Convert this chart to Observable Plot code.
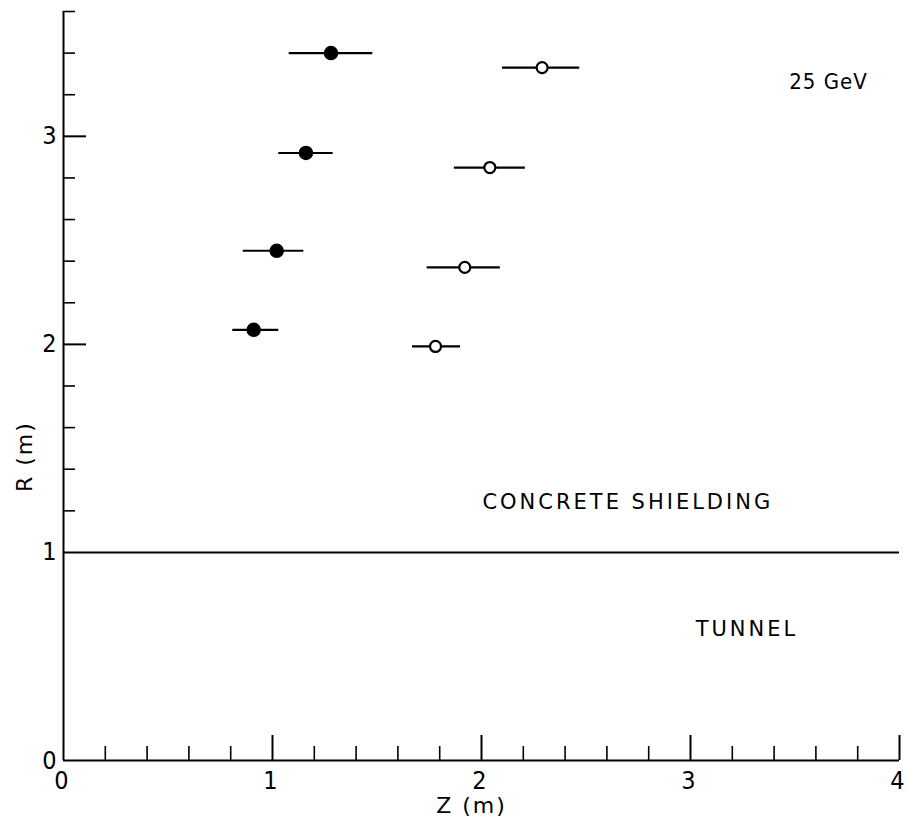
<!DOCTYPE html>
<html><head><meta charset="utf-8">
<script src="https://cdn.jsdelivr.net/npm/d3@7"></script>
<script src="https://cdn.jsdelivr.net/npm/@observablehq/plot@0.6"></script>
<style>body{margin:0;background:#fff}</style>
</head><body><div id="chart"></div>
<script>
// Filled circles (series 1)
const filledZ  = [1.28, 1.16, 1.02, 0.91];
const filledR  = [3.40, 2.92, 2.45, 2.07];
const filledLo = [1.08, 1.03, 0.86, 0.81];
const filledHi = [1.48, 1.29, 1.15, 1.03];
// Open circles (series 2)
const openZ  = [2.29, 2.04, 1.92, 1.78];
const openR  = [3.33, 2.85, 2.37, 1.99];
const openLo = [2.10, 1.87, 1.74, 1.67];
const openHi = [2.47, 2.21, 2.09, 1.90];
// Axes
const zDomain = [0, 4];
const rDomain = [0, 3.6];
const zLabels = [0, 1, 2, 3, 4];
const zMajor = [1, 2, 3, 4];
const zMinor = [0.2, 0.4, 0.6, 0.8, 1.2, 1.4, 1.6, 1.8, 2.2, 2.4, 2.6, 2.8, 3.2, 3.4, 3.6, 3.8];
const rLabels = [0, 1, 2, 3];
const rMajor = [2, 3];
const rMinor = [1.2, 1.4, 1.6, 1.8, 2.2, 2.4, 2.6, 2.8, 3.2, 3.4, 3.6];
const boundaryR = [1];
const xTitle = "Z (m)";
const yTitle = "R (m)";
// Annotations
const energyText = ["25 GeV"];
const energyZ = [3.66];
const energyR = [3.26];
const regionText = ["CONCRETE SHIELDING", "TUNNEL"];
const regionZ = [2.70, 3.27];
const regionR = [1.24, 0.63];

const W = 907, H = 827, mL = 63, mR = 8, mT = 11, mB = 67;
const plotW = W - mL - mR, plotH = H - mT - mB;

const filled = filledZ.map((z, i) => ({z, r: filledR[i], lo: filledLo[i], hi: filledHi[i]}));
const open = openZ.map((z, i) => ({z, r: openR[i], lo: openLo[i], hi: openHi[i]}));

const chart = Plot.plot({
  width: W, height: H,
  marginLeft: mL, marginRight: mR, marginTop: mT, marginBottom: mB,
  x: {domain: zDomain, axis: null},
  y: {domain: rDomain, axis: null},
  style: {fontFamily: "'DejaVu Sans', sans-serif", background: "white", color: "black"},
  marks: [
    Plot.ruleX([zDomain[0]], {x: d => d, y1: rDomain[0], y2: rDomain[1], strokeWidth: 2}),
    Plot.ruleY([rDomain[0]], {y: d => d, x1: zDomain[0], x2: zDomain[1], strokeWidth: 2}),
    Plot.ruleY(boundaryR, {y: d => d, x1: zDomain[0], x2: zDomain[1], strokeWidth: 2}),
    Plot.tickX(zMinor, {x: d => d, insetTop: plotH - 14, strokeWidth: 1.6}),
    Plot.tickX(zMajor, {x: d => d, insetTop: plotH - 25, strokeWidth: 2}),
    Plot.tickY(rMinor, {y: d => d, insetRight: plotW - 12, strokeWidth: 1.6}),
    Plot.tickY(rMajor, {y: d => d, insetRight: plotW - 23, strokeWidth: 2}),
    Plot.text(zLabels, {x: d => d, y: rDomain[0], dx: -2, dy: 20, text: d => String(d), fontSize: 25, lineAnchor: "middle"}),
    Plot.text(rLabels, {x: zDomain[0], y: d => d, dx: -7, text: d => String(d), fontSize: 25, textAnchor: "end", lineAnchor: "middle"}),
    Plot.text([xTitle], {frameAnchor: "bottom", dx: -10, dy: 45, text: d => d, fontSize: 22, lineAnchor: "middle"}),
    Plot.text([yTitle], {frameAnchor: "left", dx: -39, dy: 106, rotate: -90, text: d => d, fontSize: 22, lineAnchor: "middle"}),
    Plot.ruleY(filled, {y: "r", x1: "lo", x2: "hi", strokeWidth: 2.2}),
    Plot.ruleY(open, {y: "r", x1: "lo", x2: "hi", strokeWidth: 2.2}),
    Plot.dot(filled, {x: "z", y: "r", r: 6.5, fill: "black", stroke: "black"}),
    Plot.dot(open, {x: "z", y: "r", r: 5.5, fill: "white", stroke: "black", strokeWidth: 2.2}),
    Plot.text(energyText, {x: (d, i) => energyZ[i], y: (d, i) => energyR[i], text: d => d, fontSize: 22, lineAnchor: "middle"}),
    Plot.text(regionText, {x: (d, i) => regionZ[i], y: (d, i) => regionR[i], text: d => d, fontSize: 21, lineAnchor: "middle"})
  ]
});
const svg = d3.select(chart);
svg.selectAll("text").filter(function() { return regionText.includes(this.textContent); })
  .attr("letter-spacing", "3px");
svg.selectAll("text").filter(function() { return this.textContent === xTitle || this.textContent === yTitle; })
  .attr("letter-spacing", "2px");
svg.selectAll("text").filter(function() { return energyText.includes(this.textContent); })
  .attr("letter-spacing", "1px");
svg.selectAll("text").filter(function() { return /^\d$/.test(this.textContent) || energyText.includes(this.textContent); })
  .style("font-stretch", "condensed");
document.getElementById("chart").appendChild(chart);
</script>
</body></html>
